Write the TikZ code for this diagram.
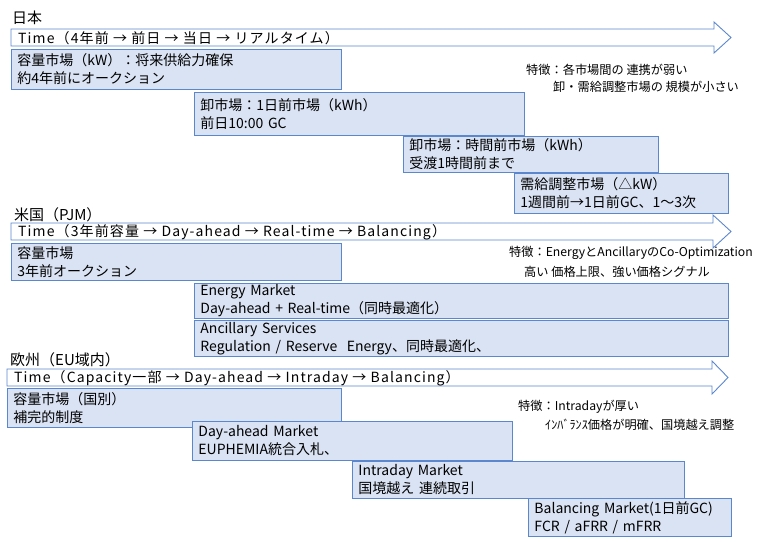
\documentclass[tikz,border=0pt]{standalone}
\usepackage{fontspec}
\setmainfont{Noto Sans CJK JP}
\newfontfamily\jp{Noto Sans CJK JP}
\newfontfamily\jpwide[LetterSpace=8]{Noto Sans CJK JP}
\definecolor{bordblue}{HTML}{5B87CF}
\definecolor{boxfill}{HTML}{DAE3F3}
\begin{document}
\begin{tikzpicture}[x=1pt,y=-1pt,
  mktbox/.style={draw=bordblue, line width=0.9pt, fill=boxfill, anchor=north west,
    align=left, inner xsep=6pt, inner ysep=0pt, font=\jp\fontsize{14}{18}\selectfont},
  arrowshape/.style={draw=bordblue, line width=0.9pt, fill=white},
  arrowtext/.style={anchor=west, inner sep=0pt, font=\jpwide\fontsize{14}{17}\selectfont},
  heading/.style={anchor=west, inner sep=0pt, font=\jp\fontsize{15}{17}\selectfont},
  note/.style={anchor=west, inner sep=0pt, font=\jp\fontsize{12.2}{14}\selectfont}]
\useasboundingbox (0,0) rectangle (759,541);

% ---------- Japan ----------
\node[heading] (jh) at (12,18) {日本};
\draw[arrowshape] (11,29) -- (714,29) -- (714,22) -- (731,37.5) -- (714,53) -- (714,46) -- (11,46) -- cycle;
\node[arrowtext] (jt) at (18,38) {Time（4年前 → 前日 → 当日 → リアルタイム）};
\node[mktbox, text width=318pt, minimum height=40pt] (jcap) at (11,49)
  {容量市場（kW）：将来供給力確保\\約4年前にオークション};
\node[mktbox, text width=318pt, minimum height=43pt] (jda) at (194,92)
  {卸市場：1日前市場（kWh）\\前日10:00 GC};
\node[mktbox, text width=243pt, minimum height=36pt] (jid) at (403,136)
  {卸市場：時間前市場（kWh）\\受渡1時間前まで};
\node[mktbox, text width=202pt, minimum height=40pt] (jbal) at (514,173)
  {需給調整市場（△kW）\\1週間前→1日前GC、1～3次};
\node[note] (jn1) at (526,70) {特徴：各市場間の 連携が弱い};
\node[note] (jn2) at (553,87) {卸・需給調整市場の 規模が小さい};

% ---------- USA ----------
\node[heading] (uh) at (14,215) {米国（PJM）};
\draw[arrowshape] (11,223) -- (713,223) -- (713,215) -- (731,231.5) -- (713,248) -- (713,240) -- (11,240) -- cycle;
\node[arrowtext] (ut) at (18,232) {Time（3年前容量 → Day-ahead → Real-time → Balancing）};
\node[mktbox, text width=318pt, minimum height=37pt] (ucap) at (11,243)
  {容量市場\\3年前オークション};
\node[mktbox, text width=522pt, minimum height=35pt] (uen) at (194,283)
  {Energy Market\\Day-ahead + Real-time（同時最適化）};
\node[mktbox, text width=522pt, minimum height=36pt] (uanc) at (194,320)
  {Ancillary Services\\Regulation / Reserve\ \ Energy、同時最適化、};
\node[note] (un1) at (509,253) {特徴：EnergyとAncillaryのCo-Optimization};
\node[note] (un2) at (524,272) {高い 価格上限、強い価格シグナル};

% ---------- EU ----------
\node[heading] (eh) at (10,360) {欧州（EU域内）};
\draw[arrowshape] (7,369) -- (712,369) -- (712,361) -- (728,377.5) -- (712,394) -- (712,386) -- (7,386) -- cycle;
\node[arrowtext] (et) at (14,378) {Time（Capacity一部 → Day-ahead → Intraday → Balancing）};
\node[mktbox, text width=322pt, minimum height=39pt] (ecap) at (7,388)
  {容量市場（国別）\\補完的制度};
\node[mktbox, text width=308pt, minimum height=39pt] (eda) at (192,421)
  {Day-ahead Market\\EUPHEMIA統合入札、};
\node[mktbox, text width=320pt, minimum height=37pt] (eid) at (352,461)
  {Intraday Market\\国境越え 連続取引};
\node[mktbox, text width=191pt, minimum height=38pt] (ebal) at (528,498)
  {Balancing Market(1日前GC)\\FCR / aFRR / mFRR};
\node[note] (en1) at (518,407) {特徴：Intradayが厚い};
\node[note] (en2) at (545,425) {ｲﾝﾊﾞﾗﾝｽ価格が明確、国境越え調整};
\end{tikzpicture}
\end{document}
